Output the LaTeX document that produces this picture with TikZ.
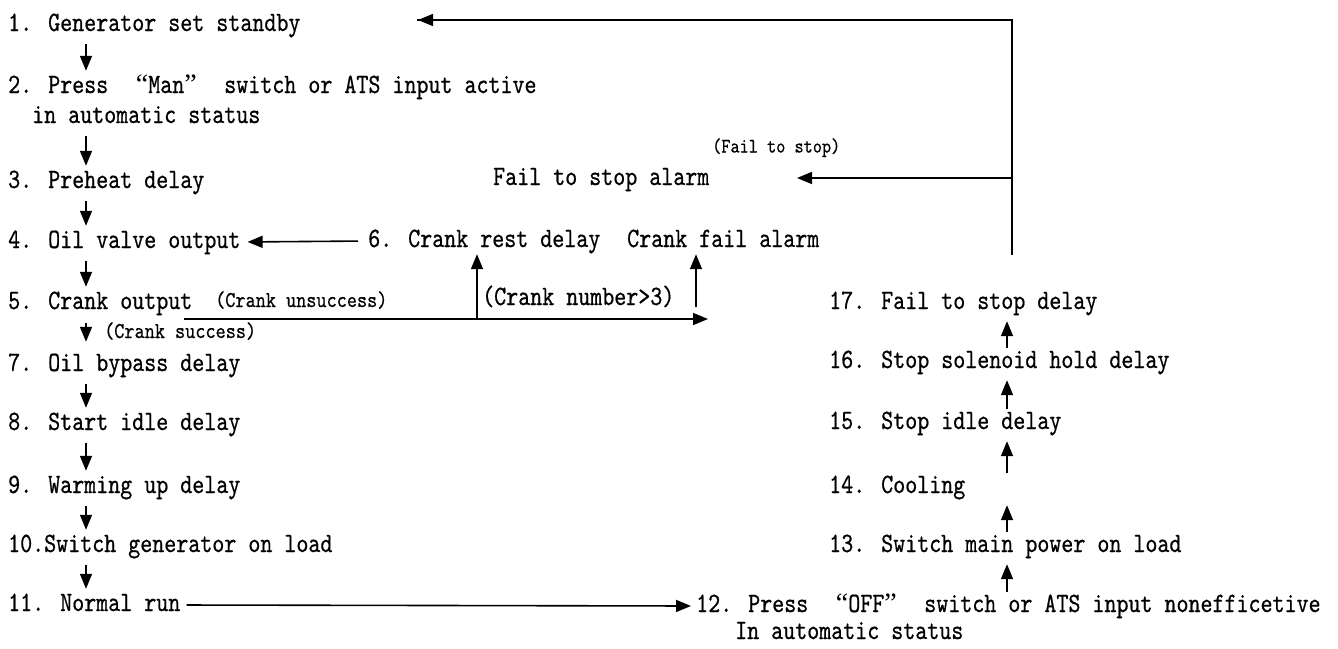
\documentclass[tikz,border=0pt]{standalone}
\usepackage{fontspec}
\newfontfamily\mainf{lmmono10-regular.otf}[FakeStretch=0.817,FakeBold=0.6]
\newfontfamily\smallf{lmmono10-regular.otf}[FakeStretch=0.85,FakeBold=0.5]
\newfontfamily\qf{Liberation Serif}
\usetikzlibrary{arrows.meta}
\newcommand{\oq}{\makebox[40pt][r]{\qf“}}
\newcommand{\cq}{\makebox[40pt][l]{\qf”}}
\tikzset{
  lbl/.style={anchor=west, inner sep=0pt, text height=16pt, text depth=4pt,
    font=\mainf\fontsize{28}{30}\selectfont},
  slbl/.style={anchor=west, inner sep=0pt, text height=13pt, text depth=3pt,
    font=\smallf\fontsize{22.7}{24}\selectfont},
  tlbl/.style={anchor=west, inner sep=0pt, text height=12pt, text depth=3pt,
    font=\smallf\fontsize{20.5}{22}\selectfont},
  ln/.style={line width=1.6pt},
  arr/.style={line width=1.6pt, -{Triangle[length=15pt,width=12pt]}},
}
\begin{document}
\begin{tikzpicture}[x=1pt,y=-1pt]
\useasboundingbox (0,0) rectangle (1338,648);
% left column
\node[lbl] (n1) at (8,25) {1. Generator set standby};
\node[lbl] (n2) at (8,87) {2. Press\oq Man\cq switch or ATS input active};
\node[lbl] (n2b) at (32,117) {in automatic status};
\node[lbl] (n3) at (8,182) {3. Preheat delay};
\node[lbl] (n4) at (8,242) {4. Oil valve output};
\node[lbl] (n5) at (8,303) {5. Crank output};
\node[slbl] (cs) at (104,333) {(Crank success)};
\node[slbl] (cu) at (215,302) {(Crank unsuccess)};
\node[lbl] (n7) at (8,365) {7. Oil bypass delay};
\node[lbl] (n8) at (8,424) {8. Start idle delay};
\node[lbl] (n9) at (8,487) {9. Warming up delay};
\node[lbl] (n10) at (8,546) {10.Switch generator on load};
\node[lbl] (n11) at (8,605) {11. Normal run};
% middle
\node[lbl] (n6) at (368,241) {6. Crank rest delay};
\node[lbl] (cfa) at (627,241) {Crank fail alarm};
\node[lbl] (cn) at (482,299) {(Crank number>3)};
\node[lbl] (fsa) at (493,179) {Fail to stop alarm};
\node[tlbl] (fs) at (712,148) {(Fail to stop)};
% right column
\node[lbl] (n17) at (829,303) {17. Fail to stop delay};
\node[lbl] (n16) at (829,362) {16. Stop solenoid hold delay};
\node[lbl] (n15) at (829,423) {15. Stop idle delay};
\node[lbl] (n14) at (829,487) {14. Cooling};
\node[lbl] (n13) at (829,546) {13. Switch main power on load};
\node[lbl] (n12) at (696,606) {12. Press\oq OFF\cq switch or ATS input nonefficetive};
\node[lbl] (n12b) at (735,633) {In automatic status};
% coordinates
\coordinate (lc) at (86,0);
\coordinate (rc) at (1007,0);
\coordinate (vx) at (1012,255);
\coordinate (topend) at (418,20);
\coordinate (fsend) at (797,178);
\coordinate (hstart) at (184,319);
\coordinate (htip) at (708,319);
\coordinate (u1) at (477,0);
\coordinate (u2) at (696,307);
% left arrows
\foreach \a/\b in {n1/n2,n2b/n3,n3/n4,n4/n5,n7/n8,n8/n9,n9/n10,n10/n11}
  \draw[arr, shorten <=9pt, shorten >=6pt] (\a.south -| lc) -- (\b.north -| lc);
\draw[arr, shorten <=10pt, shorten >=13pt] (n5.south -| lc) -- (n7.north -| lc);
% right arrows
\foreach \a/\b in {n12/n13,n13/n14,n14/n15,n15/n16,n16/n17}
  \draw[arr, shorten <=4pt, shorten >=8pt] (\a.north -| rc) -- (\b.south -| rc);
% loops
\draw[ln] (vx) |- ([xshift=-1pt]topend);
\draw[arr] (vx |- topend) -- (topend);
\draw[arr] (vx |- fsend) -- (fsend);
\draw[arr, shorten <=10pt, shorten >=7pt] (n6.west) -- (n4.east);
\draw[arr] (hstart) -- (htip);
\draw[arr, shorten >=3pt] (u1 |- hstart) -- (u1 |- n6.south);
\draw[arr, shorten >=3pt] (u2) -- (u2 |- cfa.south);
\draw[arr, shorten <=6pt, shorten >=5pt] (n11.east) -- (n12.west);
\end{tikzpicture}
\end{document}
